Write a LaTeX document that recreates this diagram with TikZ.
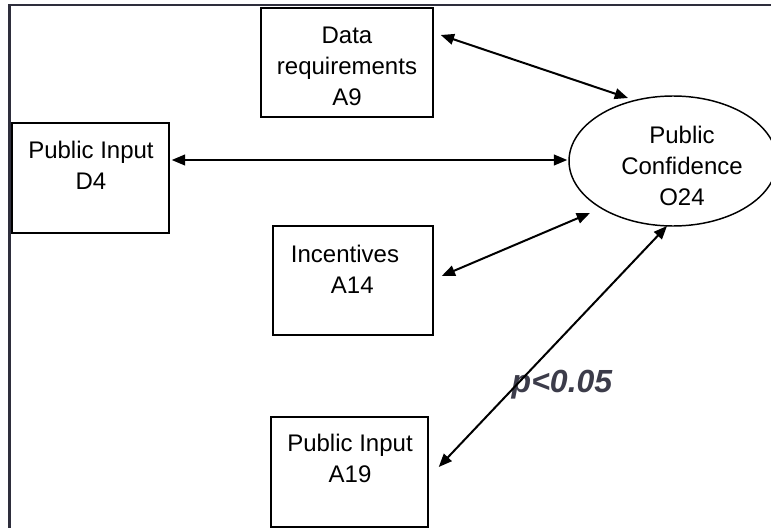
\documentclass[tikz,border=0pt]{standalone}
\usepackage{fontspec}
\setmainfont{Liberation Sans}
\usetikzlibrary{arrows.meta,shapes.geometric}
\definecolor{framecol}{HTML}{2E2E3C}
\definecolor{pcol}{HTML}{3C3C4A}
\begin{document}
\begin{tikzpicture}[x=0.75pt,y=-0.75pt,
  box/.style={draw,line width=1.1pt,rectangle,inner sep=0pt},
  oval/.style={draw,line width=1.1pt,ellipse,inner sep=0pt,minimum width=156pt,minimum height=97.5pt},
  lbl/.style={font=\fontsize{18}{23.25}\selectfont,align=center,inner sep=0pt},
  link/.style={line width=1.5pt,{Triangle[length=10pt,width=8pt]}-{Triangle[length=10pt,width=8pt]}},
  frame/.style={draw=framecol,line width=1.6pt}]
\useasboundingbox (0,0) rectangle (771,528);
% outer frame (top and left edges)
\draw[frame] (771,5) -- (9.5,5) -- (9.5,528);

% boxes
\node[box,minimum width=129pt,minimum height=81.75pt] (a9) at (347,62.5) {};
\node[box,minimum width=117.75pt,minimum height=82.5pt] (d4) at (90.5,178) {};
\node[box,minimum width=120pt,minimum height=81.75pt] (a14) at (353,280.5) {};
\node[box,minimum width=117.75pt,minimum height=82.5pt] (a19) at (349.5,472) {};
\node[oval] (o24) at (673,161) {};

% labels
\node[lbl] (ta9) at (347,66) {Data\\requirements\\A9};
\node[lbl] (td4) at (91,165) {Public Input\\D4};
\node[lbl,align=left] (ta14) at (345,269) {Incentives\\\hspace{30pt}A14};
\node[lbl] (ta19) at (350,458) {Public Input\\A19};
\node[lbl] (to24) at (682,166) {Public\\Confidence\\O24};
\node[inner sep=0pt,text=pcol,font=\fontsize{24}{28}\selectfont\bfseries\itshape] (pval) at (562,385) {p<0.05};

% two-headed connectors
\draw[link] ([shift={(7,-27.5)}]a9.east) -- ([shift={(-45,-63)}]o24.center);
\draw[link] ([shift={(2,-18)}]d4.east) -- ([shift={(-1,-1)}]o24.west);
\draw[link] ([shift={(8,-4.5)}]a14.east) -- ([shift={(-83,52)}]o24.center);
\draw[link] ([shift={(10,-5)}]a19.east) -- ([shift={(-6,65)}]o24.center);
\end{tikzpicture}
\end{document}
